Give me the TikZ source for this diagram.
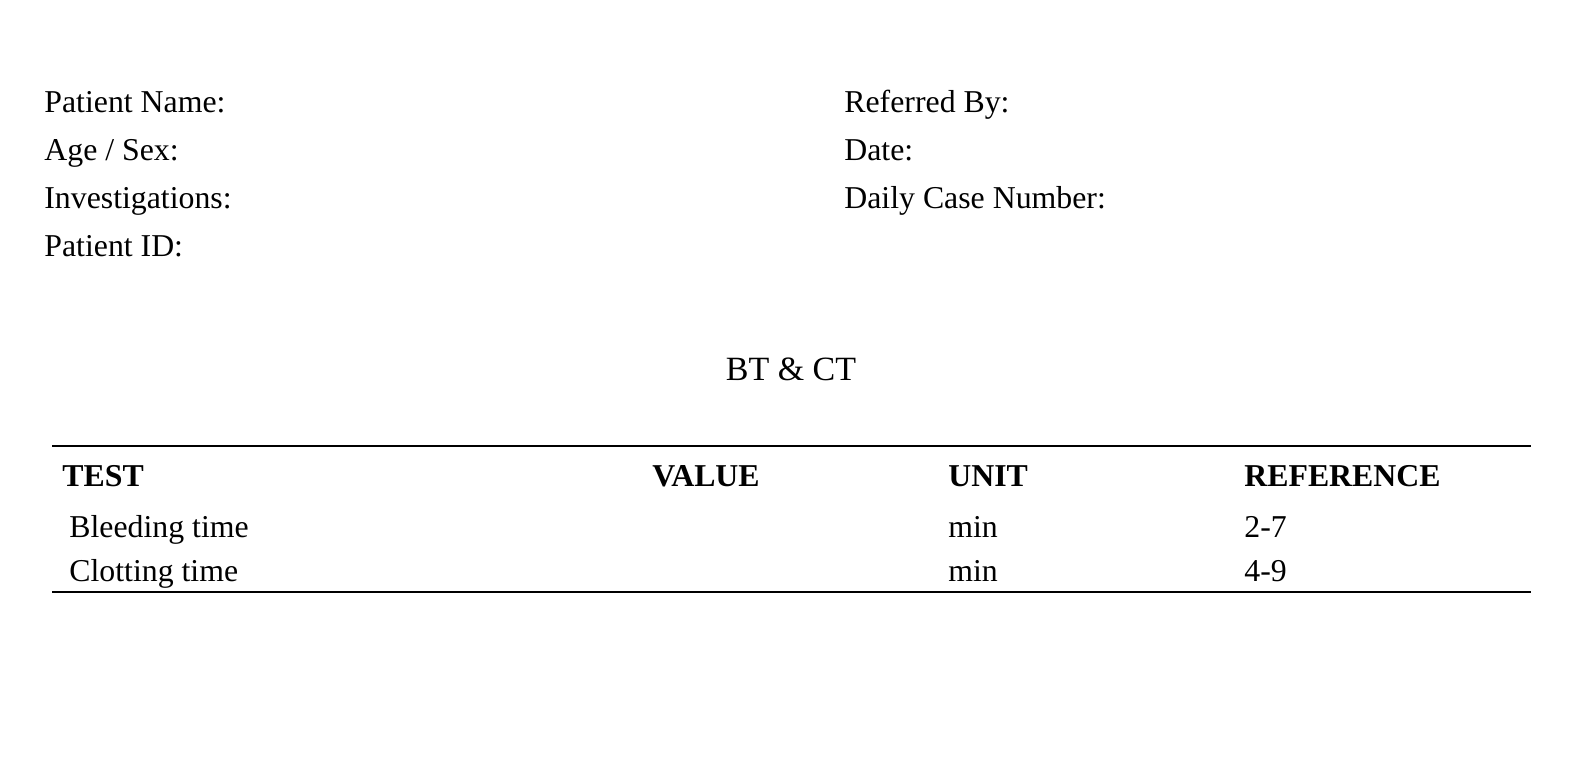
\documentclass[tikz,border=0pt]{standalone}
\usepackage{fontspec}
\setmainfont{Liberation Serif}
\begin{document}
\begin{tikzpicture}[x=0.5pt,y=-0.5pt,
  txt/.style={anchor=base west,inner sep=0pt,font=\fontsize{15.9}{18}\selectfont},
  hdr/.style={txt,font=\fontsize{15.9}{18}\selectfont\bfseries},
  rule/.style={line width=1pt}]
\useasboundingbox (0,0) rectangle (1588,774);
\node[txt] (pn) at (44,113) {Patient Name:};
\node[txt] (as) at (44,161) {Age / Sex:};
\node[txt] (inv) at (44,209) {Investigations:};
\node[txt] (pid) at (44,257) {Patient ID:};
\node[txt] (rb) at (844,113) {Referred By:};
\node[txt] (dt) at (844,161) {Date:};
\node[txt] (dcn) at (844,209) {Daily Case Number:};
\node[anchor=base,inner sep=0pt,font=\fontsize{17}{20}\selectfont] (title) at (791,381) {BT \& CT};
\coordinate (t1) at (52,446); \coordinate (t2) at (1531,446);
\coordinate (b1) at (52,592); \coordinate (b2) at (1531,592);
\draw[rule] (t1) -- (t2);
\draw[rule] (b1) -- (b2);
\node[hdr] (h1) at (62,487) {TEST};
\node[hdr] (h2) at (652,487) {VALUE};
\node[hdr] (h3) at (948,487) {UNIT};
\node[hdr] (h4) at (1244,487) {REFERENCE};
\node[txt] (r1a) at (69,537) {Bleeding time};
\node[txt] (r1c) at (948,537) {min};
\node[txt] (r1d) at (1244,537) {2-7};
\node[txt] (r2a) at (69,581) {Clotting time};
\node[txt] (r2c) at (948,581) {min};
\node[txt] (r2d) at (1244,581) {4-9};
\end{tikzpicture}
\end{document}
